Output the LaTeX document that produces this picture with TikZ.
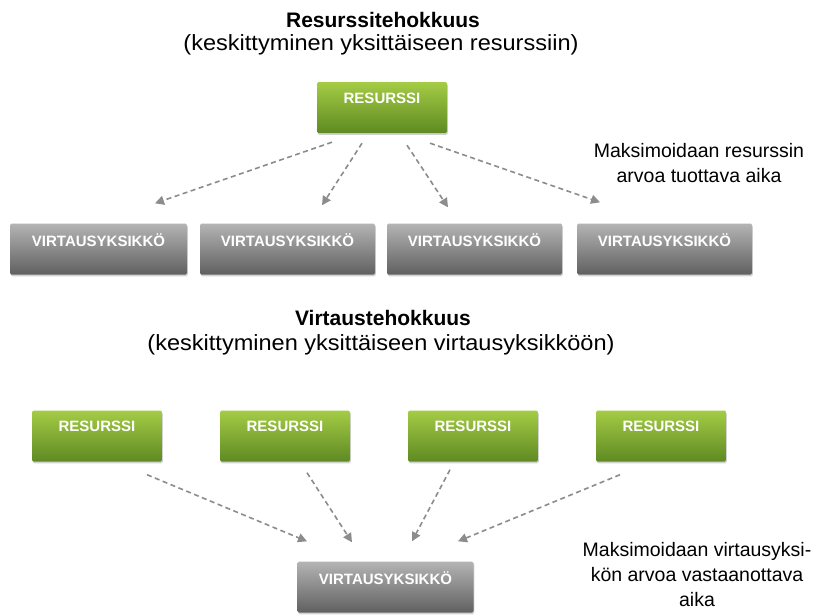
\documentclass[tikz,border=0pt]{standalone}
\usepackage{fontspec}
\setmainfont{Liberation Sans}
\newfontfamily\subfont[FakeStretch=1.07]{Liberation Sans}
\usetikzlibrary{arrows.meta,shadows}

\definecolor{grnTop}{HTML}{A4CC45}
\definecolor{grnMid}{HTML}{88B234}
\definecolor{grnBot}{HTML}{5E8A22}
\definecolor{gryTop}{HTML}{B4B4B4}
\definecolor{gryMid}{HTML}{999999}
\definecolor{gryBot}{HTML}{606060}
\definecolor{arrowGray}{HTML}{8C8C8C}

\tikzset{
  boxbase/.style={minimum width=130pt, minimum height=51pt, inner sep=0pt,
    rounded corners=1.5pt,
    drop shadow={shadow xshift=0.8pt, shadow yshift=-1.8pt, opacity=0.35}},
  greenbox/.style={boxbase, top color=grnTop, middle color=grnMid, bottom color=grnBot},
  graybox/.style={boxbase, minimum width=176pt, top color=gryTop, middle color=gryMid, bottom color=gryBot},
  boxlabel/.style={text=white, font=\bfseries\fontsize{15}{15}\selectfont, anchor=center},
  heading/.style={font=\bfseries\fontsize{21}{21}\selectfont},
  subheading/.style={font=\subfont\fontsize{22}{22}\selectfont},
  note/.style={font=\fontsize{19.5}{25}\selectfont, align=center},
  flow/.style={draw=arrowGray, line width=1.6pt, dash pattern=on 5pt off 3.5pt,
    -{Triangle[length=9pt,width=9pt]}}
}

\begin{document}
\begin{tikzpicture}[x=1pt,y=-1pt]
\useasboundingbox (0,0) rectangle (837,614);
\fill[white] (0,0) rectangle (837,614);

% --- upper part: one resource serving several flow units
\node[heading] (t1) at (383,20) {Resurssitehokkuus};
\node[subheading] (s1) at (381,45) {(keskittyminen yksittäiseen resurssiin)};

\node[greenbox] (r0) at (382,107.5) {};
\node[boxlabel] (r0t) at (382,98) {RESURSSI};

\node[graybox, minimum width=177pt] (v1) at (98.5,249) {};
\node[graybox, minimum width=175pt] (v2) at (287.5,249) {};
\node[graybox, minimum width=175pt] (v3) at (474.5,249) {};
\node[graybox, minimum width=175pt] (v4) at (664.5,249) {};
\foreach \i in {1,...,4}{
  \node[boxlabel] (v\i t) at ([yshift=9pt]v\i.center) {VIRTAUSYKSIKKÖ};
}

\draw[flow] ([xshift=-50pt,yshift=-9pt]r0.south) -- ([xshift=56.5pt,yshift=20pt]v1.north);
\draw[flow] ([xshift=-20pt,yshift=-10pt]r0.south) -- ([xshift=34.5pt,yshift=18pt]v2.north);
\draw[flow] ([xshift=25pt,yshift=-12pt]r0.south) -- ([xshift=-26.5pt,yshift=16pt]v3.north);
\draw[flow] ([xshift=48pt,yshift=-10pt]r0.south) -- ([xshift=-64.5pt,yshift=21pt]v4.north);

\node[note] (n1) at (699,163) {Maksimoidaan resurssin\\arvoa tuottava aika};

% --- lower part: several resources serving one flow unit
\node[heading] (t2) at (383,318) {Virtaustehokkuus};
\node[subheading] (s2) at (381,345) {(keskittyminen yksittäiseen virtausyksikköön)};

\node[greenbox] (g1) at (97,436) {};
\node[greenbox] (g2) at (285,436) {};
\node[greenbox] (g3) at (473,436) {};
\node[greenbox] (g4) at (661,436) {};
\foreach \i in {1,...,4}{
  \node[boxlabel] (g\i t) at ([yshift=10pt]g\i.center) {RESURSSI};
}

\node[graybox] (v0) at (385.5,587) {};
\node[boxlabel] (v0t) at (385.5,578) {VIRTAUSYKSIKKÖ};

\draw[flow] ([xshift=50pt,yshift=-13pt]g1.south) -- ([xshift=-78.5pt,yshift=20pt]v0.north);
\draw[flow] ([xshift=22pt,yshift=-11pt]g2.south) -- ([xshift=-33.5pt,yshift=19pt]v0.north);
\draw[flow] ([xshift=-23pt,yshift=-8pt]g3.south) -- ([xshift=26.5pt,yshift=20pt]v0.north);
\draw[flow] ([xshift=-41pt,yshift=-13pt]g4.south) -- ([xshift=72.5pt,yshift=20pt]v0.north);

\node[note] (n2) at (697,575) {Maksimoidaan virtausyksi-\\kön arvoa vastaanottava\\aika};
\end{tikzpicture}
\end{document}
